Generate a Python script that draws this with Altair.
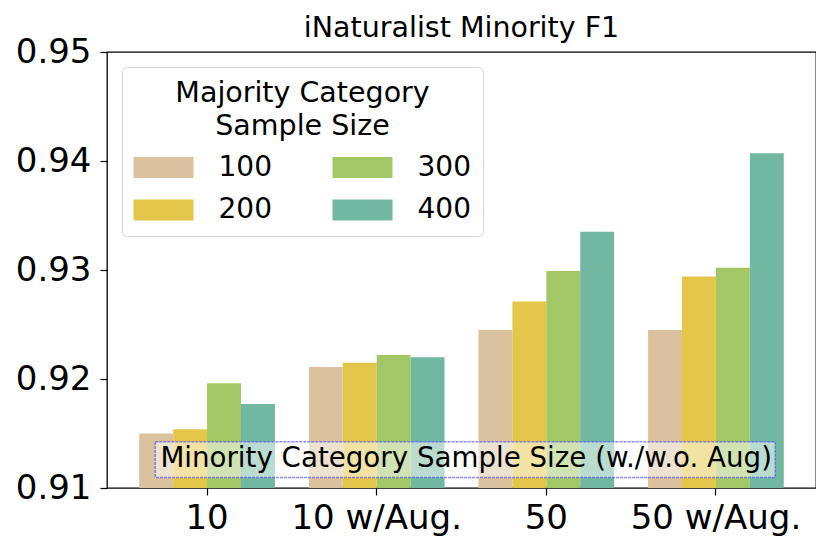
import altair as alt
import pandas as pd

groups = ["10", "10 w/Aug.", "50", "50 w/Aug."]
series = ["100", "200", "300", "400"]
f1_100 = [0.9150, 0.9211, 0.9245, 0.9245]
f1_200 = [0.9154, 0.9215, 0.9271, 0.9294]
f1_300 = [0.9196, 0.9222, 0.9299, 0.9302]
f1_400 = [0.9177, 0.9220, 0.9335, 0.9407]
colors = ["#DBC29E", "#E4C74A", "#A3C766", "#72B7A1"]
y_ticks = [0.91, 0.92, 0.93, 0.94, 0.95]
box_label = ["Minority Category Sample Size (w./w.o. Aug)"]

rows = []
for s, vals in zip(series, [f1_100, f1_200, f1_300, f1_400]):
    for g, v in zip(groups, vals):
        rows.append({"group": g, "size": s, "f1": v})
df = pd.DataFrame(rows)
box_df = pd.DataFrame({"label": box_label})

FONT = "DejaVu Sans"

bars = alt.Chart(df).mark_bar().encode(
    x=alt.X(
        "group:N",
        sort=groups,
        scale=alt.Scale(paddingInner=0.2, paddingOuter=0.19),
        axis=alt.Axis(
            title=None, labelAngle=0, labelFontSize=34, labelFont=FONT,
            labelColor="black", tickColor="black", tickSize=7, tickWidth=1.2,
            labelPadding=6, domain=False, grid=False,
        ),
    ),
    xOffset=alt.XOffset("size:N", sort=series),
    y=alt.Y(
        "f1:Q",
        scale=alt.Scale(domain=[0.91, 0.95], zero=False, nice=False),
        axis=alt.Axis(
            title=None, values=y_ticks, format=".2f", labelFontSize=34,
            labelFont=FONT, labelColor="black", tickColor="black", tickSize=7,
            tickWidth=1.2, labelPadding=9, domain=False, grid=False,
        ),
    ),
    y2=alt.datum(0.91),
    color=alt.Color(
        "size:N",
        scale=alt.Scale(domain=series, range=colors),
        legend=alt.Legend(
            title=["Majority Category", "Sample Size"],
            orient="none", legendX=15, legendY=15, columns=2,
            symbolType="M-2,-0.7H2V0.7H-2Z", symbolSize=900,
            symbolStrokeWidth=0, symbolOffset=15, symbolOpacity=1,
            labelOffset=40, labelFontSize=28, labelFont=FONT, labelColor="black",
            labelLimit=0,
            titleFontSize=28.5, titleFont=FONT, titleFontWeight="normal",
            titleColor="black", titleAlign="center", titleAnchor="middle",
            titleLineHeight=33.5, titlePadding=12, titleLimit=0,
            columnPadding=60, rowPadding=13.4, padding=11.5,
            strokeColor="#d6d6d6", fillColor="rgba(255,255,255,0.8)",
            cornerRadius=5,
        ),
    ),
)

rect = alt.Chart(box_df).mark_rect(
    fill="white", fillOpacity=0.5, stroke="#5050ee", strokeOpacity=0.65,
    strokeDash=[3, 1], strokeWidth=1.5,
).encode(
    x=alt.value(48.3), x2=alt.value(668.3), y=alt.value(389.7), y2=alt.value(425.4)
)

text = alt.Chart(box_df).mark_text(
    font=FONT, fontSize=27.7, align="center", baseline="alphabetic", color="black"
).encode(text="label:N", x=alt.value(359.2), y=alt.value(415))

chart = alt.layer(bars, rect, text).properties(
    width=709,
    height=436,
    title=alt.TitleParams(
        "iNaturalist Minority F1", fontSize=28.5, font=FONT, fontWeight="normal",
        color="black", anchor="middle", frame="group", dy=11,
    ),
    autosize=alt.AutoSizeParams(type="none"),
    padding={"left": 99, "top": 44, "right": 0, "bottom": 52},
).configure_view(stroke="black", strokeWidth=1.3)

chart.save("out.html", embed_options={"renderer": "svg", "actions": False})
